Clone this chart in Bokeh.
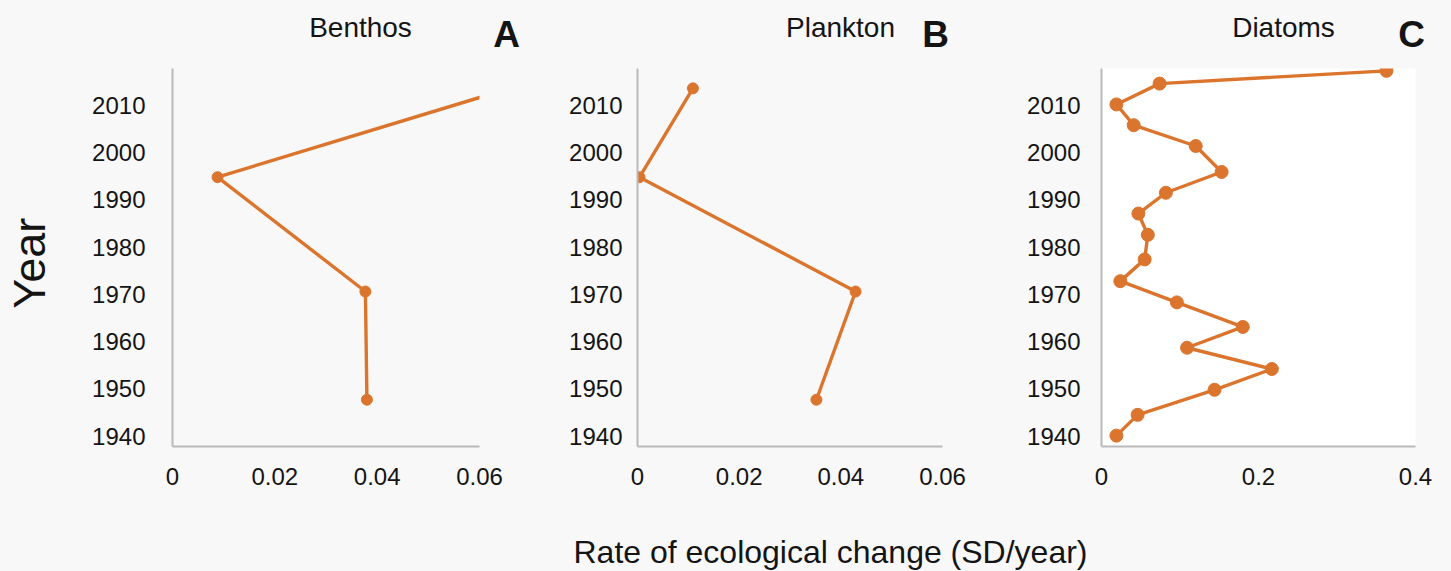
import math

from bokeh.plotting import figure
from bokeh.layouts import row, column
from bokeh.models import Range1d, FixedTicker, PrintfTickFormatter, Label
from bokeh.embed import file_html
from bokeh.resources import INLINE

FONT = "Liberation Sans"
ORANGE = "#DB752E"
PAGE_BG = "#f8f8f8"
AXIS_GRAY = "#b9b9b9"
TEXT = "#141414"

# ---- data -------------------------------------------------------------
year_ticks = [1940, 1950, 1960, 1970, 1980, 1990, 2000, 2010]
small_rate_ticks = [0, 0.02, 0.04, 0.06]
diatom_rate_ticks = [0, 0.2, 0.4]

panel_names = ["Benthos", "Plankton", "Diatoms"]
panel_letters = ["A", "B", "C"]

benthos_year = [2013.5, 1994.8, 1970.6, 1947.7]
benthos_rate = [0.0656, 0.0088, 0.0377, 0.0380]

plankton_year = [2013.6, 1994.8, 1970.6, 1947.7]
plankton_rate = [0.0109, 0.0004, 0.0429, 0.0352]

diatom_year = [2017.3, 2014.6, 2010.2, 2005.8, 2001.4, 1995.9, 1991.5, 1987.1,
               1982.6, 1977.4, 1972.8, 1968.3, 1963.1, 1958.7, 1954.2, 1949.8,
               1944.5, 1940.1]
diatom_rate = [0.363, 0.074, 0.019, 0.041, 0.120, 0.153, 0.082, 0.047,
               0.059, 0.055, 0.024, 0.096, 0.180, 0.109, 0.217, 0.144,
               0.046, 0.019]

Y_MIN, Y_MAX = 1937.8, 2017.8
FRAME_H = 378
BOTTOM_H = 84
ROW_H = FRAME_H + BOTTOM_H
HEADER_H = 68
CAPTION_H = 41
TOTAL_W = 1451
YEAR_W = 62


def strip(width, height):
    """A bare strip used to hold headings and shared axis captions."""
    s = figure(width=width, height=height, x_range=Range1d(0, width),
               y_range=Range1d(0, height), min_border=0, title=None,
               x_axis_location=None, y_axis_location=None,
               output_backend="svg", toolbar_location=None,
               background_fill_color=PAGE_BG, border_fill_color=PAGE_BG,
               outline_line_color=None)
    s.xgrid.visible = False
    s.ygrid.visible = False
    return s


def panel(rate, year, x_max, x_ticks, left, frame_w, right, tick_standoff,
          marker_size, plot_bg):
    p = figure(frame_width=frame_w, frame_height=FRAME_H,
               min_border_left=left, min_border_right=right,
               min_border_top=0, min_border_bottom=BOTTOM_H,
               x_range=Range1d(0, x_max), y_range=Range1d(Y_MIN, Y_MAX),
               output_backend="svg", toolbar_location=None, title=None,
               background_fill_color=plot_bg, border_fill_color=PAGE_BG,
               outline_line_color=None)
    p.xgrid.visible = False
    p.ygrid.visible = False

    for ax in (p.xaxis[0], p.yaxis[0]):
        ax.axis_line_color = AXIS_GRAY
        ax.axis_line_width = 2
        ax.major_tick_line_color = None
        ax.minor_tick_line_color = None
        ax.major_label_text_font = FONT
        ax.major_label_text_font_size = "24px"
        ax.major_label_text_color = TEXT

    p.xaxis.ticker = FixedTicker(ticks=x_ticks)
    p.xaxis.formatter = PrintfTickFormatter(format="%g")
    p.xaxis.major_label_standoff = 15
    p.yaxis.ticker = FixedTicker(ticks=year_ticks)
    p.yaxis.major_label_standoff = tick_standoff

    p.line(rate, year, line_color=ORANGE, line_width=3.4)
    p.scatter(rate, year, size=marker_size, fill_color=ORANGE,
              line_color=ORANGE)
    return p


pa = panel(benthos_rate, benthos_year, 0.06, small_rate_ticks,
           172 - YEAR_W, 307, 46, 21, 11, PAGE_BG)
pb = panel(plankton_rate, plankton_year, 0.06, small_rate_ticks,
           112, 305, 33, 9, 11, PAGE_BG)
pc = panel(diatom_rate, diatom_year, 0.4, diatom_rate_ticks,
           126, 314, 36, 15, 13, "white")

# shared y-axis caption, left of the panels
year_strip = strip(YEAR_W, ROW_H)
year_strip.add_layout(Label(x=29, y=224, text="Year", text_font=FONT,
                            text_font_size="45px", text_color=TEXT,
                            text_align="center", text_baseline="middle",
                            angle=math.pi / 2))

# panel headings: name plus bold panel letter
header = strip(TOTAL_W, HEADER_H)
name_x = [360, 840, 1283]
letter_x = [506, 935, 1411]
for name, nx in zip(panel_names, name_x):
    header.add_layout(Label(x=nx, y=HEADER_H - 27, text=name, text_font=FONT,
                            text_font_size="28px", text_color=TEXT,
                            text_align="center", text_baseline="middle"))
for letter, lx in zip(panel_letters, letter_x):
    header.add_layout(Label(x=lx, y=HEADER_H - 34, text=letter, text_font=FONT,
                            text_font_size="37px", text_font_style="bold",
                            text_color=TEXT, text_align="center",
                            text_baseline="middle"))

# shared x-axis caption under the three panels
caption = strip(TOTAL_W, CAPTION_H)
caption.add_layout(Label(x=830, y=CAPTION_H / 2 - 1,
                         text="Rate of ecological change (SD/year)",
                         text_font=FONT, text_font_size="32px",
                         text_color=TEXT, text_align="center",
                         text_baseline="middle"))

layout = column(header,
                row(year_strip, pa, pb, pc, styles={"background-color": PAGE_BG}),
                caption, styles={"background-color": PAGE_BG})

with open("out.html", "w") as f:
    f.write(file_html(layout, INLINE))
